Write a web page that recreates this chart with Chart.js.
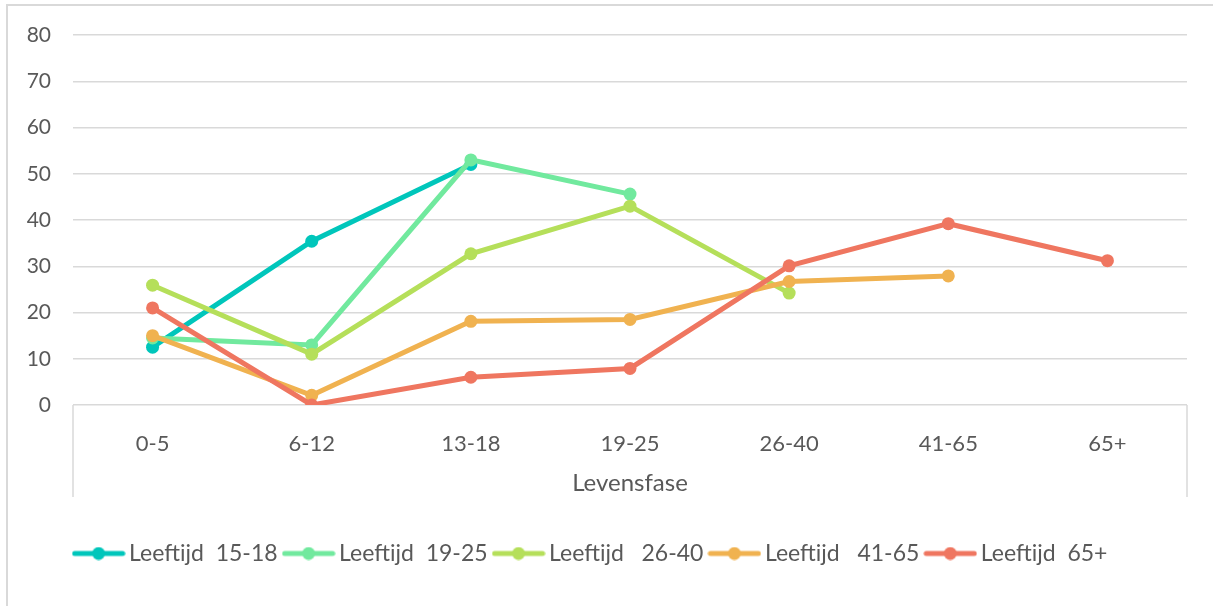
<!DOCTYPE html>
<html>
<head>
<meta charset="utf-8">
<script src="https://cdn.jsdelivr.net/npm/chart.js@4/dist/chart.umd.min.js"></script>
<style>
  html, body { margin: 0; padding: 0; background: #fff; overflow: hidden; }
  #frame {
    position: absolute; left: 6px; top: 4px; width: 1260px; height: 660px;
    border-left: 2px solid #d9d9d9; border-top: 2px solid #d9d9d9;
  }
  #wrap { position: absolute; left: 0; top: 0; width: 1213px; height: 606px; }
</style>
</head>
<body>
<div id="frame"></div>
<div id="wrap"><canvas id="chart"></canvas></div>
<script>
const categories = ['0-5', '6-12', '13-18', '19-25', '26-40', '41-65', '65+']
const seriesNames = ['Leeftijd  15-18', 'Leeftijd  19-25', 'Leeftijd   26-40', 'Leeftijd   41-65', 'Leeftijd  65+']
const age15to18 = [12.5, 35.4, 52, null, null, null, null]
const age19to25 = [14.5, 13, 53, 45.6, null, null, null]
const age26to40 = [25.9, 11, 32.7, 43, 24.2, null, null]
const age41to65 = [15, 2.1, 18.1, 18.5, 26.7, 27.9, null]
const age65plus = [21, 0, 6, 7.9, 30.1, 39.2, 31.2]
const colors = ['#00c6bb', '#71e99e', '#b5df5a', '#f0b250', '#ef7660']

const textColor = '#595959'
const gridColor = '#d9d9d9'
const fontFamily = 'Lato, "Open Sans", sans-serif'

// legend marker: short line with a dot in the middle
function makeMarker(color) {
  const c = document.createElement('canvas')
  c.width = 54
  c.height = 14
  const g = c.getContext('2d')
  g.strokeStyle = color
  g.lineWidth = 5
  g.lineCap = 'round'
  g.beginPath()
  g.moveTo(3, 7)
  g.lineTo(51, 7)
  g.stroke()
  g.fillStyle = color
  g.beginPath()
  g.arc(27, 7, 6.5, 0, Math.PI * 2)
  g.fill()
  return c
}
const markers = colors.map(makeMarker)

const allSeries = [age15to18, age19to25, age26to40, age41to65, age65plus]

// short vertical lines under the plot, left and right
const sideLines = {
  id: 'sideLines',
  afterDraw(chart) {
    const { ctx, chartArea } = chart
    ctx.save()
    ctx.strokeStyle = gridColor
    ctx.lineWidth = 1.5
    ctx.beginPath()
    ctx.moveTo(chartArea.left, chartArea.bottom)
    ctx.lineTo(chartArea.left, chartArea.bottom + 92)
    ctx.moveTo(chartArea.right, chartArea.bottom)
    ctx.lineTo(chartArea.right, chartArea.bottom + 92)
    ctx.stroke()
    ctx.restore()
  },
}

new Chart(document.getElementById('chart'), {
  type: 'line',
  data: {
    labels: categories,
    datasets: allSeries.map((values, i) => ({
      label: seriesNames[i],
      data: values,
      borderColor: colors[i],
      backgroundColor: colors[i],
      borderWidth: 5,
      pointRadius: 6.5,
      pointHoverRadius: 6.5,
      pointBorderWidth: 0,
      tension: 0,
      order: allSeries.length - i,
    })),
  },
  options: {
    responsive: true,
    maintainAspectRatio: false,
    animation: false,
    layout: { padding: { left: 0, right: 26, top: 35, bottom: 31 } },
    plugins: {
      legend: {
        position: 'bottom',
        labels: {
          usePointStyle: true,
          pointStyleWidth: 38,
          padding: 12,
          color: textColor,
          font: { family: fontFamily, size: 23 },
          sort: (a, b) => a.datasetIndex - b.datasetIndex,
          generateLabels: (chart) =>
            Chart.defaults.plugins.legend.labels.generateLabels(chart).map((l) => ({
              ...l,
              pointStyle: markers[l.datasetIndex],
            })),
        },
      },
      tooltip: { enabled: false },
    },
    scales: {
      x: {
        offset: true,
        grid: { display: false },
        border: { display: false },
        ticks: { color: textColor, padding: 18, font: { family: fontFamily, size: 22 } },
        title: {
          display: true,
          text: 'Levensfase',
          color: textColor,
          padding: { top: 0, bottom: 32 },
          font: { family: fontFamily, size: 24 },
        },
        afterFit: (scale) => { scale.height = 125 },
      },
      y: {
        min: 0,
        max: 80,
        ticks: { stepSize: 10, color: textColor, padding: 22, font: { family: fontFamily, size: 21 } },
        grid: { color: gridColor, lineWidth: 1.5, drawTicks: false },
        border: { display: false },
        afterFit: (scale) => { scale.width = 73 },
      },
    },
  },
  plugins: [sideLines],
})
</script>
</body>
</html>
